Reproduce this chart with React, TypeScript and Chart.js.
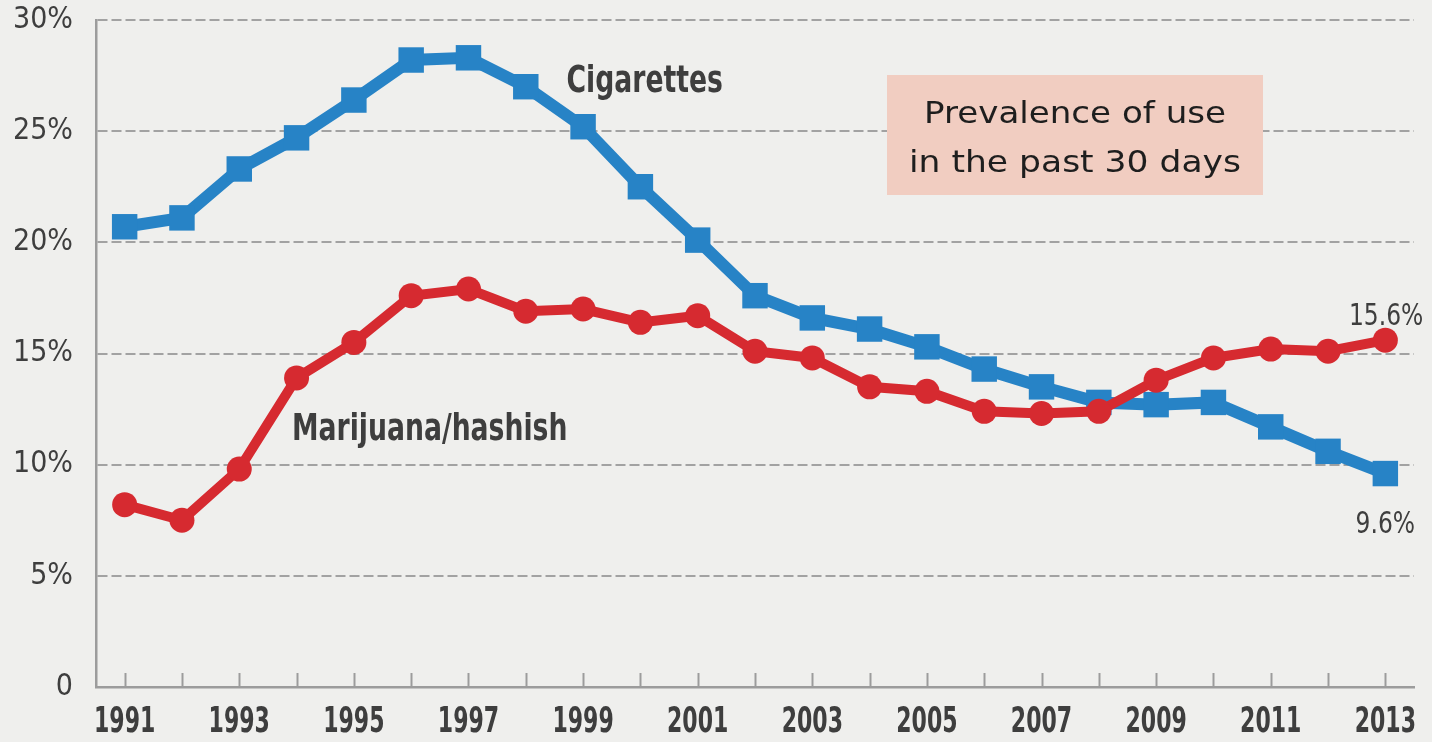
import React, { useEffect, useRef } from 'react';
import { Chart, registerables } from 'chart.js';

Chart.register(...registerables);

// Survey years on the horizontal axis
const years = [
  '1991', '1992', '1993', '1994', '1995', '1996', '1997', '1998', '1999', '2000', '2001', '2002',
  '2003', '2004', '2005', '2006', '2007', '2008', '2009', '2010', '2011', '2012', '2013',
];

// Past-30-day prevalence, percent
const cigarettes = [
  20.7, 21.1, 23.3, 24.7, 26.4, 28.2, 28.3, 27.0, 25.2, 22.5, 20.1, 17.6,
  16.6, 16.1, 15.3, 14.3, 13.5, 12.8, 12.7, 12.8, 11.7, 10.6, 9.6,
];
const marijuana = [
  8.2, 7.5, 9.8, 13.9, 15.5, 17.6, 17.9, 16.9, 17.0, 16.4, 16.7, 15.1,
  14.8, 13.5, 13.3, 12.4, 12.3, 12.4, 13.8, 14.8, 15.2, 15.1, 15.6,
];

const yTickValues = [0, 5, 10, 15, 20, 25, 30];
const cigaretteName = 'Cigarettes';
const marijuanaName = 'Marijuana/hashish';
const noteLines = ['Prevalence of use', 'in the past 30 days'];

const BLUE = '#2783c6';
const RED = '#d62a30';
const AXIS = '#9c9c9c';
const GRID = '#a2a2a2';
const INK = '#3e3e3e';
const PAPER = '#efefed';
const NOTE_FILL = '#f1cdc1';
const NARROW = "'Liberation Sans Narrow', 'DejaVu Sans Condensed', 'Roboto', sans-serif";
const BOOK = "'DejaVu Sans', 'Open Sans', sans-serif";

// Draw text squeezed or stretched horizontally by factor k
function squeezedText(
  ctx: CanvasRenderingContext2D,
  text: string,
  x: number,
  y: number,
  k: number,
  align: CanvasTextAlign,
) {
  ctx.save();
  ctx.translate(x, y);
  ctx.scale(k, 1);
  ctx.textAlign = align;
  ctx.fillText(text, 0, 0);
  ctx.restore();
}

// Draw text fitted to an exact width
function fittedText(
  ctx: CanvasRenderingContext2D,
  text: string,
  x: number,
  y: number,
  width: number,
  align: CanvasTextAlign,
) {
  const w = ctx.measureText(text).width;
  squeezedText(ctx, text, x, y, width / w, align);
}

const decorations = {
  id: 'decorations',
  afterDraw(chart: any) {
    const { ctx, chartArea, scales } = chart;
    const xs = scales.x;
    const ys = scales.y;
    ctx.save();
    ctx.textBaseline = 'alphabetic';

    // small upward tick marks for every year
    ctx.strokeStyle = AXIS;
    ctx.lineWidth = 2;
    xs.ticks.forEach((_: any, i: number) => {
      const px = Math.round(xs.getPixelForTick(i)) + 0.5;
      ctx.beginPath();
      ctx.moveTo(px, chartArea.bottom);
      ctx.lineTo(px, chartArea.bottom - 14);
      ctx.stroke();
    });

    // condensed year labels under the axis
    ctx.fillStyle = INK;
    ctx.font = `bold 36px ${NARROW}`;
    xs.ticks.forEach((t: any, i: number) => {
      if (!t.label) return;
      squeezedText(ctx, String(t.label), xs.getPixelForTick(i), chartArea.bottom + 45, 0.68, 'center');
    });

    // note box
    const bx = chartArea.left + 791;
    const by = chartArea.top + 55;
    const bw = 376;
    const bh = 120;
    ctx.fillStyle = NOTE_FILL;
    ctx.fillRect(bx, by, bw, bh);
    ctx.fillStyle = '#1e1e1e';
    ctx.font = `30px ${BOOK}`;
    fittedText(ctx, noteLines[0], bx + bw / 2, by + 48, 302, 'center');
    fittedText(ctx, noteLines[1], bx + bw / 2, by + 97, 332, 'center');

    // series names
    ctx.fillStyle = INK;
    ctx.font = `bold 38px ${NARROW}`;
    squeezedText(ctx, cigaretteName, xs.getPixelForValue(7.71), ys.getPixelForValue(26.75), 0.78, 'left');
    squeezedText(ctx, marijuanaName, xs.getPixelForValue(2.92), ys.getPixelForValue(11.1), 0.78, 'left');

    // end-of-series values
    const last = years.length - 1;
    const lx = xs.getPixelForValue(last);
    ctx.font = `31px ${NARROW}`;
    squeezedText(ctx, `${marijuana[last]}%`, lx + 38, ys.getPixelForValue(marijuana[last]) - 15, 0.84, 'right');
    squeezedText(ctx, `${cigarettes[last]}%`, lx, ys.getPixelForValue(cigarettes[last]) + 59, 0.84, 'center');

    ctx.restore();
  },
};

export default function App() {
  const canvasRef = useRef<HTMLCanvasElement | null>(null);

  useEffect(() => {
    document.body.style.margin = '0';
    document.body.style.background = PAPER;
    const canvas = canvasRef.current;
    if (!canvas) return;

    const chart = new Chart(canvas, {
      type: 'line',
      data: {
        labels: years,
        datasets: [
          {
            label: marijuanaName,
            data: marijuana,
            borderColor: RED,
            backgroundColor: RED,
            borderWidth: 10,
            pointStyle: 'circle',
            pointRadius: 12.5,
            pointBackgroundColor: RED,
            pointBorderWidth: 0,
            tension: 0,
            order: 1,
          },
          {
            label: cigaretteName,
            data: cigarettes,
            borderColor: BLUE,
            backgroundColor: BLUE,
            borderWidth: 12,
            pointStyle: 'rect',
            pointRadius: 18,
            pointBackgroundColor: BLUE,
            pointBorderWidth: 0,
            tension: 0,
            order: 2,
          },
        ],
      },
      options: {
        responsive: false,
        devicePixelRatio: 1,
        animation: false,
        layout: { padding: { top: 20, right: 12, left: 0, bottom: 0 } },
        plugins: {
          legend: { display: false },
          tooltip: { enabled: false },
          title: { display: false },
        },
        scales: {
          x: {
            type: 'category',
            offset: true,
            grid: { display: false, drawTicks: false },
            border: { display: true, color: AXIS, width: 2.5 },
            ticks: {
              display: false,
              autoSkip: false,
              maxRotation: 0,
              callback: (_value: any, index: number) => (index % 2 === 0 ? years[index] : ''),
            },
            afterFit: (scale: any) => {
              scale.height = 55;
              scale.paddingLeft = 0;
              scale.paddingRight = 0;
            },
          },
          y: {
            min: 0,
            max: 30,
            afterBuildTicks: (scale: any) => {
              scale.ticks = yTickValues.map((v) => ({ value: v }));
            },
            ticks: {
              padding: 23,
              color: INK,
              font: { family: NARROW, size: 30 },
              callback: (value: any) => (value === 0 ? '0' : `${value}%`),
            },
            grid: {
              color: (ctx: any) => (ctx.tick && ctx.tick.value === 0 ? 'rgba(0,0,0,0)' : GRID),
              lineWidth: 2,
              drawTicks: false,
            },
            border: { display: true, color: AXIS, width: 2.5, dash: [10, 4] },
            afterFit: (scale: any) => {
              scale.width = 96;
              scale.paddingTop = 0;
              scale.paddingBottom = 0;
            },
          },
        },
      },
      plugins: [decorations],
    });

    return () => chart.destroy();
  }, []);

  return (
    <div style={{ width: 1432, height: 742, background: PAPER }}>
      <canvas ref={canvasRef} width={1432} height={742} style={{ display: 'block' }} />
    </div>
  );
}
